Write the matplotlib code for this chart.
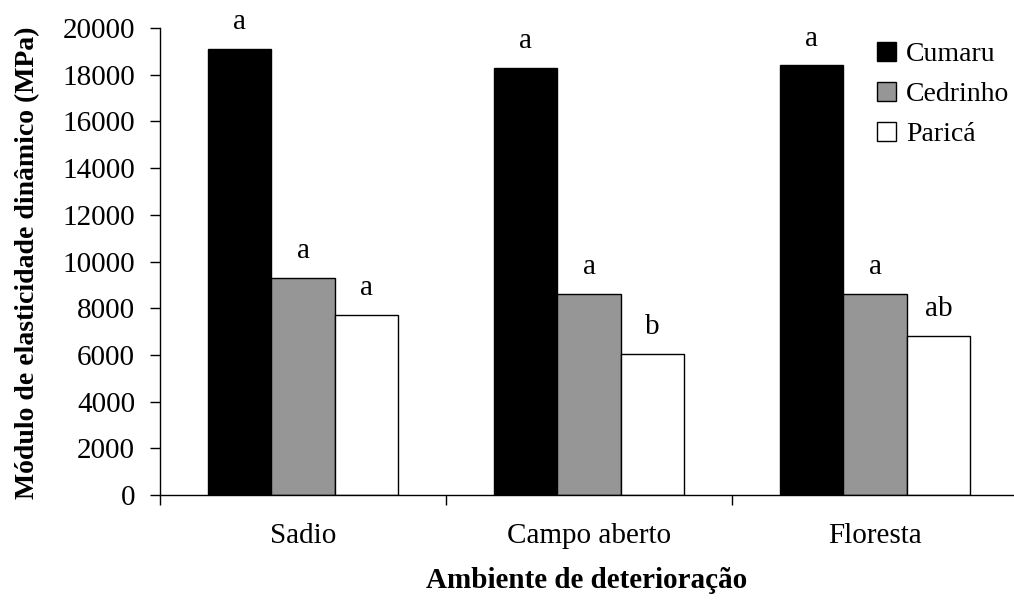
import numpy as np
import matplotlib.pyplot as plt

# Data
groups = ['Sadio', 'Campo aberto', 'Floresta']
species = ['Cumaru', 'Cedrinho', 'Paricá']
cumaru = [19100, 18300, 18400]
cedrinho = [9300, 8620, 8620]
parica = [7700, 6050, 6800]
letters_cumaru = ['a', 'a', 'a']
letters_cedrinho = ['a', 'a', 'a']
letters_parica = ['a', 'b', 'ab']

plt.rcParams['font.family'] = ['Liberation Serif', 'DejaVu Serif']

fig = plt.figure(figsize=(10.14, 6.0), dpi=100)
ax = fig.add_axes([160 / 1014, 105 / 600, 854 / 1014, 467 / 600])

x = np.arange(len(groups))
w = 0.222
series = [cumaru, cedrinho, parica]
letters = [letters_cumaru, letters_cedrinho, letters_parica]
colors = ['black', '#969696', 'white']

for i, (vals, lab, col) in enumerate(zip(series, letters, colors)):
    pos = x + (i - 1) * w
    ax.bar(pos, vals, width=w, color=col, edgecolor='black', linewidth=1,
           label=species[i])
    for p, v, t in zip(pos, vals, lab):
        ax.text(p, v + 1150, t, ha='center', va='center', fontsize=21)

ax.set_xlim(-0.5, 2.486)
ax.set_ylim(0, 20000)
ax.set_yticks(np.arange(0, 20001, 2000))
ax.set_xticks([-0.5, 0.5, 1.5], minor=False)
ax.set_xticklabels([])
ax.set_xticks(x, minor=True)
ax.set_xticklabels(groups, minor=True)
ax.tick_params(axis='x', which='minor', length=0, pad=20, labelsize=21)
ax.tick_params(axis='x', which='major', length=7.5, width=1, direction='out')
ax.tick_params(axis='y', length=7, width=1, direction='out', labelsize=21,
               pad=11)

for s in ['top', 'right']:
    ax.spines[s].set_visible(False)
for s in ['left', 'bottom']:
    ax.spines[s].set_linewidth(1)

fig.text(28 / 1014, 1 - 263 / 600, 'Módulo de elasticidade dinâmico (MPa)',
         rotation=90, ha='center', va='center', fontsize=20,
         fontweight='bold')
fig.text(587 / 1014, 1 - 580 / 600, 'Ambiente de deterioração',
         ha='center', va='center', fontsize=21, fontweight='bold')

ax.legend(loc='upper left', bbox_to_anchor=(877 / 1014, 1 - 42 / 600),
          bbox_transform=fig.transFigure, frameon=False, borderpad=0,
          borderaxespad=0, fontsize=20, handlelength=0.7, handleheight=0.7,
          handletextpad=0.35, labelspacing=0.52)

fig.savefig('out.png', dpi=100)
